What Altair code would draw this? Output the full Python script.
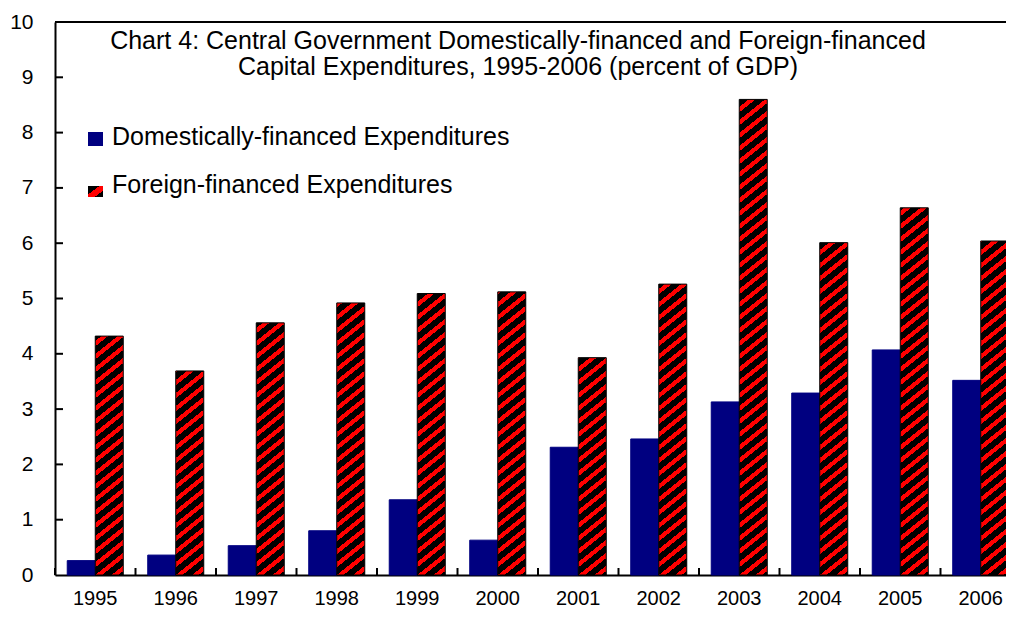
import altair as alt
import pandas as pd

# ---------------- data ----------------
YEARS = ["1995", "1996", "1997", "1998", "1999", "2000",
         "2001", "2002", "2003", "2004", "2005", "2006"]
DOMESTIC = [0.26, 0.36, 0.53, 0.80, 1.36, 0.63, 2.31, 2.46, 3.13, 3.29, 4.07, 3.52]
FOREIGN = [4.32, 3.69, 4.56, 4.92, 5.09, 5.12, 3.93, 5.26, 8.60, 6.01, 6.64, 6.04]
SERIES = ["Domestically-financed Expenditures", "Foreign-financed Expenditures"]
TITLE_LINES = ["Chart 4: Central Government Domestically-financed and Foreign-financed",
               "Capital Expenditures, 1995-2006 (percent of GDP)"]
Y_LABELS = list(range(0, 11))
Y_TICKS = [1, 2, 3, 4, 5, 6, 7, 8, 9]

# ---------------- layout / style ----------------
W_VIEW = 951          # visible width (page is cut on the right like the original)
W_FULL = 966          # full extent of the category axis
H = 553
Y_MAX = 10
PAD_INNER = 0.304
FONT = "Arial, Liberation Sans"
NAVY = "#000080"
RED = "#FF0000"
BLACK = "#000000"
BAR_W = W_FULL / len(YEARS) * (1 - PAD_INNER) / 2
SLOPE = 0.8      # stripe rise per px
PITCH = 13.0     # vertical period of stripes in px
RED_FRAC = 0.42


def hatch(value):
    """Linear gradient (bbox units) that renders diagonal red/black stripes."""
    h = max(value / Y_MAX * H, 1.0)
    w = BAR_W
    F = SLOPE * w + h
    c = F / (SLOPE * SLOPE * w * w + h * h)

    def color_at(f):
        g = (f - h) % PITCH
        return RED if g < RED_FRAC * PITCH else BLACK

    bounds = []
    k = int((0 - h) // PITCH) - 1
    while True:
        for b in (k * PITCH + h, k * PITCH + RED_FRAC * PITCH + h):
            if 0 < b < F:
                bounds.append(b)
        if k * PITCH + h > F:
            break
        k += 1
    bounds = sorted(bounds)
    stops = [{"offset": 0, "color": color_at(0.0)}]
    for b in bounds:
        stops.append({"offset": round(b / F, 6), "color": color_at(b - 1e-6)})
        stops.append({"offset": round(b / F, 6), "color": color_at(b + 1e-6)})
    stops.append({"offset": 1, "color": color_at(F)})
    return {"gradient": "linear", "x1": 0, "y1": 0,
            "x2": round(c * SLOPE * w, 6), "y2": round(c * h, 6), "stops": stops}


bars = pd.DataFrame({
    "year": YEARS * 2,
    "series": [SERIES[0]] * len(YEARS) + [SERIES[1]] * len(YEARS),
    "value": DOMESTIC + FOREIGN,
})

fill_rule = None
for yr, v in zip(YEARS, FOREIGN):
    pred = (alt.datum.series == SERIES[1]) & (alt.datum.year == yr)
    if fill_rule is None:
        fill_rule = alt.when(pred).then(alt.value(hatch(v)))
    else:
        fill_rule = fill_rule.when(pred).then(alt.value(hatch(v)))
fill_rule = fill_rule.otherwise(alt.value(NAVY))

stroke_rule = alt.when(alt.datum.series == SERIES[1]).then(alt.value(BLACK)).otherwise(alt.value(NAVY))

y_scale = alt.Scale(domain=[0, Y_MAX], nice=False, zero=True)
y_axis = alt.Axis(values=Y_LABELS, labelFont=FONT, labelFontSize=21,
                  labelColor="black", labelPadding=22, ticks=False,
                  domain=True, domainColor="black", domainWidth=2, grid=False)

bar_layer = alt.Chart(bars).mark_bar(strokeWidth=1).encode(
    x=alt.X("year:N", sort=YEARS, title=None,
            scale=alt.Scale(paddingInner=PAD_INNER, paddingOuter=PAD_INNER / 2,
                            range=[0, W_FULL]),
            axis=alt.Axis(labelFont=FONT, labelFontSize=20, labelColor="black",
                          labelPadding=13, labelAngle=0, ticks=False, domain=True,
                          domainColor="black", domainWidth=2, grid=False)),
    xOffset=alt.XOffset("series:N", sort=SERIES),
    y=alt.Y("value:Q", scale=y_scale, title=None, axis=y_axis),
    fill=fill_rule,
    stroke=stroke_rule,
)

# inward y ticks
ytick_layer = alt.Chart(pd.DataFrame({"value": Y_TICKS})).mark_rule(
    color="black", strokeWidth=2).encode(
    y=alt.Y("value:Q", scale=y_scale, title=None, axis=y_axis),
    x=alt.value(0), x2=alt.value(8),
)

# inward x ticks at category boundaries
xtick_layer = alt.Chart(pd.DataFrame({"year": YEARS})).mark_rule(
    color="black", strokeWidth=2).encode(
    x=alt.X("year:N", sort=YEARS, bandPosition=0, axis=None,
            scale=alt.Scale(paddingInner=0, paddingOuter=0, range=[0, W_FULL])),
    y=alt.value(H - 7), y2=alt.value(H),
)

# top frame line
frame_layer = alt.Chart(pd.DataFrame({"value": [Y_MAX]})).mark_rule(
    color="black", strokeWidth=2).encode(
    y=alt.Y("value:Q", scale=y_scale, title=None, axis=y_axis),
    x=alt.value(0), x2=alt.value(W_FULL),
)

# title
title_layer = alt.Chart(pd.DataFrame({"t": [TITLE_LINES]})).mark_text(
    font=FONT, fontSize=25, color="black", align="center", baseline="alphabetic",
    lineHeight=26).encode(
    text="t:N", x=alt.value(463), y=alt.value(27),
)

# legend
leg_sym_d = alt.Chart(pd.DataFrame({"s": [SERIES[0]]})).mark_rect(
    fill=NAVY).encode(
    x=alt.value(33), x2=alt.value(48), y=alt.value(110), y2=alt.value(124),
)
leg_sym_f = alt.Chart(pd.DataFrame({"s": [SERIES[1]]})).mark_rect(
    fill={"gradient": "linear", "x1": 0, "y1": 0, "x2": 1, "y2": 1,
          "stops": [{"offset": 0, "color": BLACK}, {"offset": 0.38, "color": BLACK},
                    {"offset": 0.38, "color": RED}, {"offset": 0.72, "color": RED},
                    {"offset": 0.72, "color": BLACK}, {"offset": 1, "color": BLACK}]}
).encode(
    x=alt.value(33), x2=alt.value(48), y=alt.value(164), y2=alt.value(175),
)
leg_text_d = alt.Chart(pd.DataFrame({"s": [SERIES[0]]})).mark_text(
    font=FONT, fontSize=25, color="black", align="left", baseline="alphabetic").encode(
    text="s:N", x=alt.value(57), y=alt.value(123),
)
leg_text_f = alt.Chart(pd.DataFrame({"s": [SERIES[1]]})).mark_text(
    font=FONT, fontSize=25, color="black", align="left", baseline="alphabetic").encode(
    text="s:N", x=alt.value(57), y=alt.value(171),
)

chart = alt.layer(
    bar_layer, ytick_layer, xtick_layer, frame_layer, title_layer,
    leg_sym_d, leg_sym_f, leg_text_d, leg_text_f
).resolve_scale(x="independent", y="shared").properties(
    width=W_VIEW, height=H,
    autosize=alt.AutoSizeParams(type="none"),
    padding={"left": 47, "top": 14, "right": 0, "bottom": 34},
).configure_view(stroke=None).configure(background="white")

chart.save("out.html", embed_options={"renderer": "svg", "actions": False})
